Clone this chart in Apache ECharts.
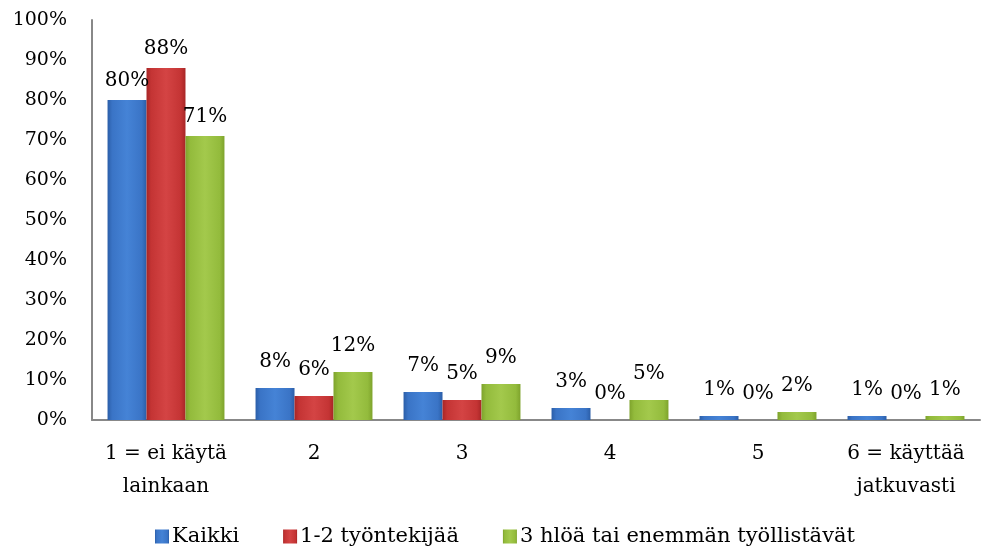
<!DOCTYPE html>
<html>
<head>
<meta charset="utf-8">
<script src="https://cdn.jsdelivr.net/npm/echarts@6/dist/echarts.min.js"></script>
<style>
html, body { margin: 0; padding: 0; background: #fff; }
#chart { width: 984px; height: 550px; }
</style>
</head>
<body>
<div id="chart"></div>
<script>
var categories = ['1 = ei käytä\nlainkaan', '2', '3', '4', '5', '6 = käyttää\njatkuvasti'];
var seriesNames = ['Kaikki', '1-2 työntekijää', '3 hlöä tai enemmän työllistävät'];
var kaikki = [80, 8, 7, 3, 1, 1];
var pienet = [88, 6, 5, 0, 0, 0];
var isot = [71, 12, 9, 5, 2, 1];

var FONT = '"DejaVu Serif", "Liberation Serif", serif';

// vaaka gradientti -> pylvään "3D" viiste
function bevel(dark, mid, light) {
    return new echarts.graphic.LinearGradient(0, 0, 1, 0, [
        { offset: 0, color: dark },
        { offset: 0.12, color: mid },
        { offset: 0.5, color: light },
        { offset: 0.88, color: mid },
        { offset: 1, color: dark }
    ]);
}

var colors = [
    bevel('#2b5ea8', '#3a74c6', '#4583d6'),
    bevel('#a82626', '#c43434', '#d44444'),
    bevel('#7ea32c', '#93bb3c', '#a3c94c')
];
var legendColors = ['#3a74c6', '#c43434', '#93bb3c'];

function makeSeries(name, data, idx) {
    return {
        name: name,
        type: 'bar',
        barGap: 0,
        barCategoryGap: '21%',
        // pienten arvojen tekstit nousevat Excelissä hieman korkeammalle
        data: data.map(function (v) {
            return { value: v, label: { distance: v > 50 ? 9 : 16 } };
        }),
        itemStyle: { color: colors[idx] },
        label: {
            show: true,
            position: 'top',
            formatter: '{c}%',
            fontFamily: FONT,
            fontSize: 20,
            color: '#000'
        }
    };
}

var option = {
    animation: false,
    color: legendColors,
    textStyle: { fontFamily: FONT },
    grid: {
        left: 92,
        right: 4,
        top: 20,
        bottom: 130
    },
    legend: {
        top: 521,
        left: 150,
        icon: 'rect',
        itemWidth: 14,
        itemHeight: 14,
        itemGap: 44,
        textStyle: { fontFamily: FONT, fontSize: 21, color: '#000', padding: [0, 0, 0, -2] },
        data: seriesNames
    },
    xAxis: {
        type: 'category',
        data: categories,
        axisLine: { lineStyle: { color: '#888', width: 2 } },
        axisTick: { show: false },
        axisLabel: {
            interval: 0,
            margin: 17,
            lineHeight: 33,
            fontFamily: FONT,
            fontSize: 20,
            color: '#000'
        }
    },
    yAxis: {
        type: 'value',
        min: 0,
        max: 100,
        interval: 10,
        axisLine: { show: true, lineStyle: { color: '#888', width: 2 } },
        axisTick: { show: false },
        splitLine: { show: false },
        axisLabel: {
            margin: 25,
            formatter: '{value}%',
            fontFamily: FONT,
            fontSize: 19,
            color: '#000'
        }
    },
    series: [
        makeSeries(seriesNames[0], kaikki, 0),
        makeSeries(seriesNames[1], pienet, 1),
        makeSeries(seriesNames[2], isot, 2)
    ]
};

var chart = echarts.init(document.getElementById('chart'));
chart.setOption(option);
</script>
</body>
</html>
